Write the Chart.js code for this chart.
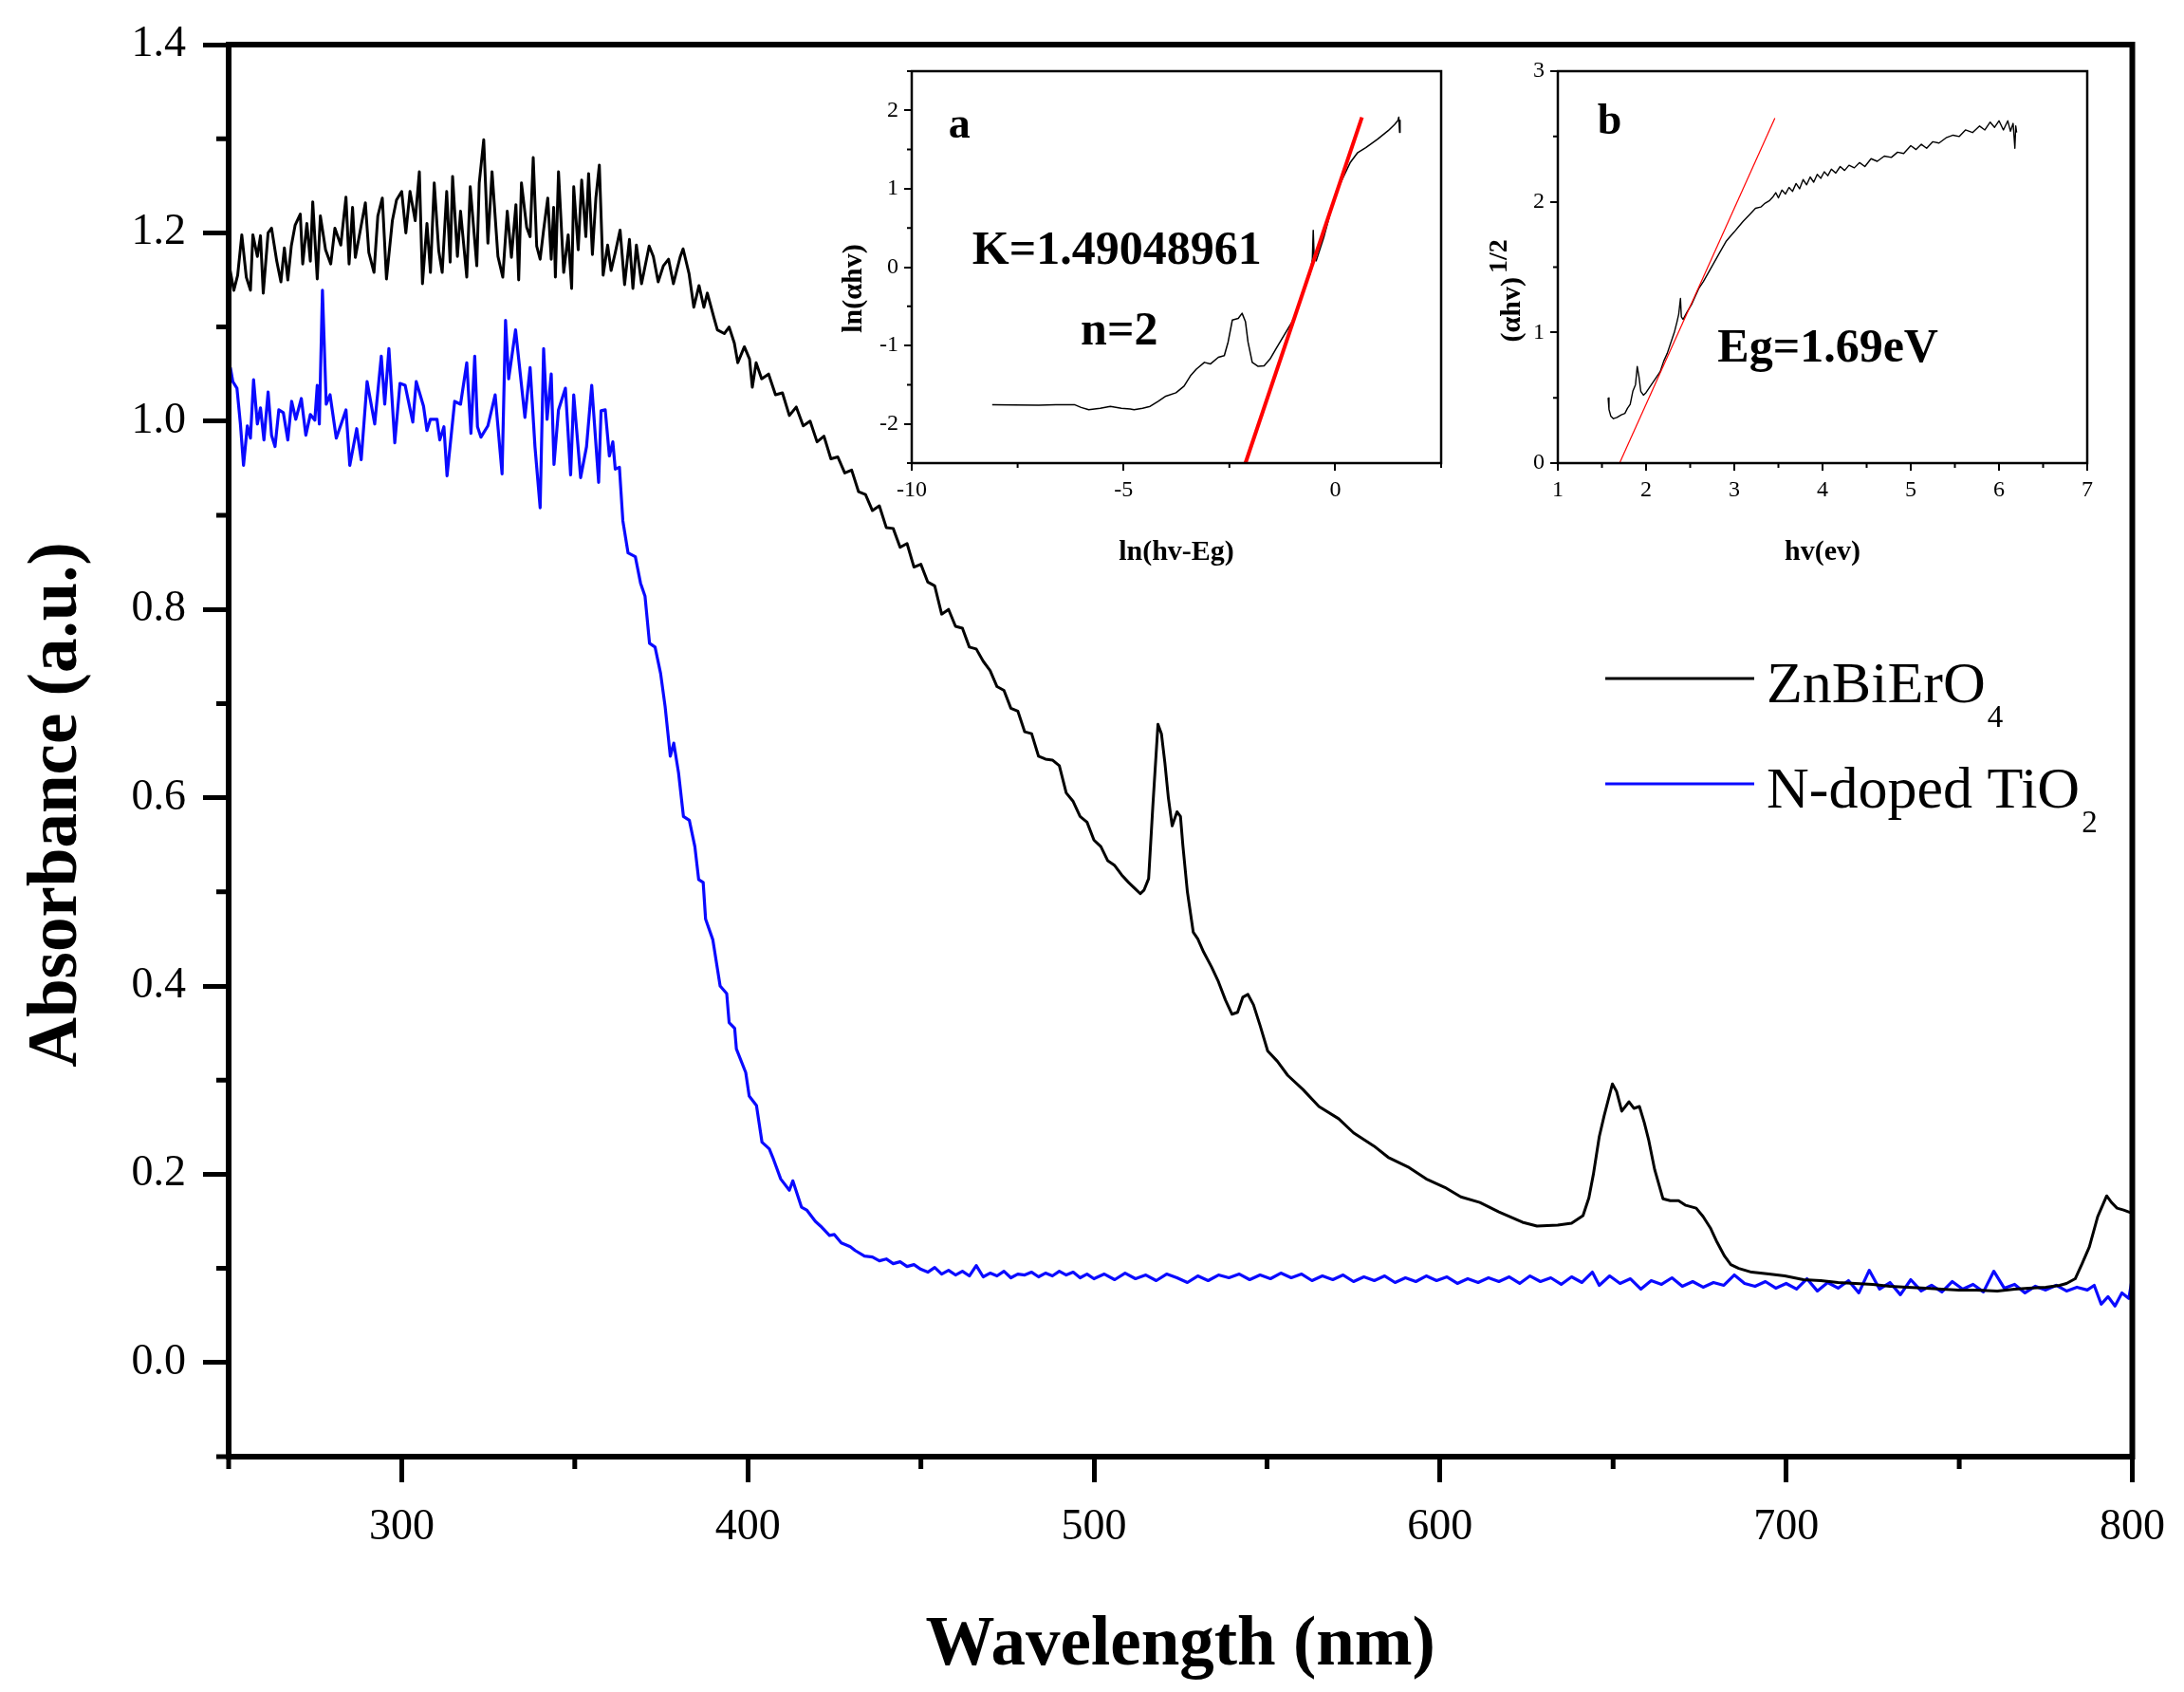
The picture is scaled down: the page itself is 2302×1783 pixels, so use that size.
<!DOCTYPE html>
<html>
<head>
<meta charset="utf-8">
<script src="https://cdn.jsdelivr.net/npm/chart.js@4.4.0/dist/chart.umd.min.js"></script>
<style>
  html, body { margin: 0; padding: 0; background: #fff; }
  #wrap { position: relative; width: 2302px; height: 1783px; }
  canvas { position: absolute; }
</style>
</head>
<body>
<div id="wrap">
  <canvas id="main" width="2302" height="1783" style="left:0;top:0;width:2302px;height:1783px"></canvas>
  <canvas id="insetA" width="670" height="575" style="left:870px;top:35px;width:670px;height:575px"></canvas>
  <canvas id="insetB" width="690" height="575" style="left:1550px;top:35px;width:690px;height:575px"></canvas>
</div>
<script>
// main spectrum, ZnBiErO4 (black)
const zbeWave = [250.2,251.5,252.6,253.8,255.1,256.3,257.0,258.3,259.2,260.0,261.4,262.4,263.9,265.1,266.1,267.1,268.1,269.2,270.7,271.4,
  272.6,273.6,274.3,275.6,276.5,278.0,279.5,280.7,282.4,283.9,284.8,285.8,286.6,288.3,289.5,290.5,292.0,293.1,294.4,295.6,
  297.3,298.5,300.0,301.2,302.4,303.9,305.1,306.0,307.3,308.3,309.4,310.7,311.7,313.0,314.0,314.7,316.1,317.0,318.8,319.8,
  321.7,322.4,323.7,324.9,326.1,327.8,329.2,330.5,331.7,333.0,333.8,334.6,336.1,337.1,338.0,339.0,340.0,341.0,342.2,343.2,
  343.9,344.4,345.3,346.8,348.1,349.1,349.7,351.0,352.0,353.2,354.0,355.1,356.1,357.1,358.2,359.5,360.5,361.7,363.1,364.4,
  365.8,366.8,367.8,369.3,371.5,372.7,374.1,375.6,377.1,378.5,380.5,381.3,383.0,384.4,385.9,387.3,388.3,390.2,391.2,393.2,
  394.6,396.1,397.1,399.0,400.5,401.3,402.4,404,406,408,410,412,414,416,418,420,422,424,426,428,430,432,434,436,438,440,
  442,444,446,448,450,452,454,456,458,460,462,464,466,468,470,472,474,476,478,480,482,484,486,488,490,492,494,496,498,500,
  502,504,506,508,510,512,513.4,514.5,515.8,517.0,518.5,519.5,520.5,521.5,522.6,524.0,525.0,525.7,527.0,528.7,530.0,531.7,
  534.0,535.8,538.0,539.9,541.5,543.0,544.5,546.1,548.0,550.2,553,556,560.4,565,570.7,575,580.9,585,591.1,596,601.4,606,
  611.5,617,623.8,628,634,638,641.3,643,644.3,646,647.4,649.8,651,652.5,654.6,656,657.6,659,660.3,662,664.4,666.5,668.9,671,
  674,676,678.1,680,682.2,684,686.3,690,695,699.6,705,710,715,720,725,730,735,740.4,745,750,755,761,766,770,775,779,781,
  783.5,785.5,787.6,790,792.6,794,795.6,797.5,799.7];
const zbeAbs = [1.165,1.139,1.155,1.198,1.153,1.139,1.198,1.175,1.197,1.136,1.200,1.205,1.170,1.148,1.184,1.150,1.186,1.208,1.220,1.167,
  1.210,1.170,1.233,1.151,1.218,1.182,1.167,1.205,1.187,1.238,1.167,1.227,1.174,1.208,1.232,1.179,1.158,1.218,1.237,1.151,
  1.213,1.235,1.244,1.200,1.244,1.213,1.265,1.146,1.210,1.158,1.253,1.181,1.158,1.244,1.169,1.260,1.175,1.223,1.153,1.249,
  1.165,1.253,1.299,1.189,1.265,1.175,1.153,1.223,1.174,1.230,1.150,1.253,1.206,1.196,1.280,1.186,1.172,1.203,1.237,1.172,
  1.227,1.153,1.265,1.158,1.198,1.141,1.249,1.182,1.256,1.196,1.263,1.177,1.237,1.272,1.155,1.187,1.160,1.179,1.203,1.145,
  1.193,1.141,1.187,1.146,1.186,1.175,1.148,1.165,1.172,1.146,1.175,1.183,1.157,1.121,1.144,1.121,1.136,1.110,1.097,1.093,
  1.100,1.083,1.062,1.079,1.066,1.036,1.062,1.045,1.050,1.028,1.030,1.006,1.015,0.995,1.000,0.978,0.984,0.960,0.962,0.945,0.948,0.925,0.922,0.905,0.910,0.887,
  0.886,0.866,0.870,0.845,0.848,0.829,0.825,0.795,0.800,0.782,0.780,0.760,0.758,0.745,0.735,0.718,0.714,0.695,0.692,0.670,0.668,0.644,0.641,0.640,0.634,0.605,0.596,0.580,0.574,0.555,
  0.548,0.533,0.528,0.518,0.510,0.503,0.498,0.502,0.514,0.590,0.678,0.668,0.637,0.600,0.570,0.585,0.580,0.549,0.500,0.457,0.450,0.436,
  0.420,0.406,0.385,0.370,0.372,0.388,0.391,0.380,0.358,0.331,0.320,0.305,0.290,0.272,0.259,0.244,0.230,0.218,0.207,0.195,0.186,0.176,
  0.170,0.160,0.149,0.145,0.146,0.148,0.156,0.175,0.200,0.240,0.262,0.296,0.288,0.267,0.277,0.270,0.272,0.255,0.236,0.205,0.174,0.172,0.172,0.167,
  0.164,0.155,0.143,0.128,0.113,0.104,0.100,0.096,0.094,0.092,0.088,0.087,0.085,0.084,0.083,0.081,0.080,0.079,0.078,0.077,0.077,0.076,0.078,0.079,0.080,0.082,0.084,
  0.089,0.105,0.123,0.155,0.177,0.170,0.164,0.162,0.159];

// main spectrum, N-doped TiO2 (blue)
const tioWave = [250.5,251.2,252.4,253.4,254.3,255.4,256.3,257.2,258.3,259.2,260.2,261.4,262.4,263.4,264.5,265.8,267.1,268.2,269.4,271.0,
  272.3,273.6,274.9,275.6,276.2,277.1,278.2,279.3,281.1,283.9,285.0,287.0,288.3,290.0,292.2,294.1,295.1,296.3,298.0,299.5,
  301.0,303.2,304.2,306.3,307.3,308.3,310.2,311.0,312.2,313.1,315.3,317.0,318.8,320.0,321.1,321.9,322.9,324.9,327.0,329.0,
  330.0,330.9,332.9,335.6,337.1,338.5,340.0,341.0,342.0,343.2,344.0,345.3,347.3,348.8,349.7,351.7,353.4,354.9,356.9,357.6,
  358.8,360.0,361.0,361.7,362.9,363.9,365.4,367.5,369.0,370.3,371.6,373.2,374.8,376.1,377.6,378.6,380.0,381.4,383.1,384.7,
  385.8,387.1,387.8,389.9,392.0,393.9,394.6,396.2,396.7,399.4,400.4,402.5,404.1,406.2,407.2,409.5,412,413,415.5,417,
  419.5,421,423.6,425,427,429.6,431,433.7,436,438,440,442,444,446,448,450,452,454,456,458,460,462,464,466,468,470,
  472,474,476,478,480,482,484,486,488,490,492,494,496,498,500,503,506,509,512,515,518,521,524,527,530,533,536,539,542,545,
  548,551,554,557,560,563,566,569,572,575,578,581,584,587,590,593,596,599,602,605,608,611,614,617,620,623,626,629,632,635,
  638,641,644,646,649,652,655,658,661,664,667,670,673,676,679,682,685,688,691,694,697,700,703,706,709,712,715,718,721,724,
  727,730,733,736,739,742,745,748,751,754,757,760,763,766,769,772,775,778,781,784,787,789,791,793,795,797,799,800];
const tioAbs = [1.057,1.042,1.035,0.997,0.953,0.995,0.982,1.044,0.997,1.014,0.980,1.031,0.985,0.973,1.012,1.009,0.980,1.021,1.002,1.024,
  0.985,1.007,1.001,1.038,0.997,1.139,1.018,1.028,0.982,1.012,0.953,0.992,0.959,1.042,0.997,1.069,1.018,1.077,0.977,1.040,
  1.038,0.999,1.042,1.016,0.990,1.002,1.002,0.980,0.994,0.942,1.021,1.018,1.062,0.987,1.069,0.994,0.983,0.995,1.028,0.944,
  1.107,1.045,1.097,1.004,1.057,0.973,0.908,1.077,1.002,1.050,0.954,1.012,1.035,0.943,1.028,0.940,0.973,1.038,0.935,1.011,
  1.012,0.963,0.978,0.949,0.951,0.894,0.860,0.856,0.828,0.814,0.764,0.760,0.732,0.697,0.644,0.658,0.626,0.580,0.576,0.548,
  0.513,0.510,0.471,0.449,0.400,0.392,0.361,0.355,0.333,0.308,0.283,0.273,0.234,0.227,0.218,0.195,0.183,0.193,0.165,0.162,
  0.150,0.145,0.135,0.136,0.127,0.123,0.119,0.113,0.112,0.108,0.110,0.105,0.107,0.102,0.104,0.099,0.096,0.101,0.094,0.098,0.093,0.097,0.092,0.103,0.091,0.095,
  0.092,0.097,0.090,0.094,0.093,0.096,0.091,0.095,0.092,0.097,0.093,0.096,0.090,0.094,0.089,0.094,0.088,0.095,0.089,0.093,0.087,0.094,0.090,0.085,0.092,0.087,0.093,0.090,0.094,0.088,
  0.093,0.089,0.095,0.090,0.094,0.087,0.092,0.088,0.093,0.086,0.091,0.087,0.092,0.085,0.090,0.086,0.092,0.087,0.091,0.084,0.089,0.085,0.090,0.086,0.091,0.084,0.092,0.086,0.090,0.083,
  0.091,0.085,0.096,0.082,0.092,0.084,0.089,0.078,0.087,0.083,0.090,0.081,0.086,0.080,0.085,0.082,0.093,0.084,0.081,0.086,0.079,0.084,0.078,0.089,0.076,0.085,0.079,0.087,0.074,0.098,
  0.078,0.085,0.072,0.088,0.076,0.082,0.075,0.086,0.078,0.083,0.075,0.097,0.079,0.083,0.074,0.081,0.077,0.082,0.076,0.080,0.077,0.082,0.062,0.070,0.060,0.074,0.068,0.090];

const mainXTicks = [300, 400, 500, 600, 700, 800];
const mainXMinor = [250, 350, 450, 550, 650, 750];
const mainYTicks = [0, 0.2, 0.4, 0.6, 0.8, 1.0, 1.2, 1.4];
const mainYMinor = [-0.1, 0.1, 0.3, 0.5, 0.7, 0.9, 1.1, 1.3];

// inset a: ln(ahv) vs ln(hv-Eg)
const lnX = [-8.1,-7.6,-7.0,-6.6,-6.16,-6.0,-5.82,-5.55,-5.31,-5.05,-4.84,-4.75,-4.55,-4.37,-4.18,-4.0,-3.76,-3.57,-3.42,-3.28,
  -3.09,-2.95,-2.76,-2.62,-2.53,-2.43,-2.29,-2.20,-2.12,-2.06,-1.96,-1.82,-1.68,-1.54,-1.40,-1.21,-1.02,-0.88,-0.74,-0.60,
  -0.54,-0.52,-0.50,-0.45,-0.27,-0.12,0.02,0.16,0.35,0.53,0.72,1.00,1.25,1.40,1.48,1.50,1.52,1.53];
const lnY = [-1.754,-1.757,-1.760,-1.754,-1.754,-1.790,-1.819,-1.800,-1.776,-1.800,-1.810,-1.819,-1.800,-1.776,-1.711,-1.646,-1.603,-1.517,-1.387,-1.301,
  -1.215,-1.236,-1.150,-1.128,-0.956,-0.675,-0.654,-0.589,-0.697,-0.956,-1.215,-1.266,-1.258,-1.172,-1.042,-0.869,-0.697,-0.524,-0.265,-0.093,
  0.10,0.468,0.15,0.080,0.382,0.684,0.943,1.115,1.331,1.461,1.525,1.633,1.741,1.82,1.871,1.914,1.72,1.88];
const lnFitX = [-2.12, 0.63];
const lnFitY = [-2.5, 1.91];
const aXTicks = [-10, -5, 0];
const aXMinor = [-7.5, -2.5, 2.5];
const aYTicks = [-2, -1, 0, 1, 2];
const aYMinor = [-2.5, -1.5, -0.5, 0.5, 1.5, 2.5];

// inset b: (ahv)^1/2 vs hv
const hvX = [1.57,1.58,1.60,1.63,1.67,1.72,1.76,1.79,1.82,1.85,1.88,1.90,1.92,1.94,1.97,2.00,2.04,2.08,2.12,2.16,
  2.20,2.24,2.28,2.32,2.35,2.37,2.39,2.40,2.42,2.46,2.52,2.56,2.60,2.65,2.70,2.75,2.80,2.85,2.91,2.96,
  3.00,3.05,3.10,3.17,3.24,3.30,3.35,3.40,3.44,3.47,3.50,3.54,3.58,3.62,3.66,3.70,3.74,3.78,3.82,3.86,
  3.90,3.94,3.98,4.02,4.06,4.10,4.15,4.20,4.25,4.30,4.36,4.42,4.48,4.55,4.62,4.70,4.78,4.85,4.92,5.00,
  5.06,5.12,5.18,5.25,5.32,5.40,5.48,5.55,5.62,5.70,5.78,5.84,5.90,5.95,6.00,6.05,6.10,6.13,6.16,6.18,6.19,6.20];
const hvY = [0.50,0.41,0.36,0.34,0.35,0.37,0.38,0.42,0.45,0.55,0.60,0.74,0.66,0.55,0.52,0.54,0.58,0.62,0.66,0.70,
  0.78,0.84,0.92,1.00,1.08,1.14,1.26,1.12,1.10,1.15,1.22,1.28,1.34,1.39,1.45,1.51,1.57,1.63,1.70,1.74,
  1.77,1.81,1.85,1.90,1.95,1.96,1.99,2.01,2.04,2.07,2.03,2.09,2.06,2.11,2.08,2.14,2.10,2.17,2.13,2.19,
  2.15,2.21,2.18,2.23,2.20,2.25,2.22,2.27,2.24,2.28,2.26,2.30,2.27,2.33,2.31,2.35,2.34,2.38,2.37,2.43,
  2.40,2.44,2.41,2.46,2.45,2.49,2.51,2.50,2.55,2.53,2.58,2.55,2.61,2.57,2.62,2.55,2.62,2.54,2.60,2.41,2.58,2.53];
const hvFitX = [1.70, 3.46];
const hvFitY = [0, 2.64];
const bXTicks = [1, 2, 3, 4, 5, 6, 7];
const bXMinor = [1.5, 2.5, 3.5, 4.5, 5.5, 6.5];
const bYTicks = [0, 1, 2, 3];
const bYMinor = [0.5, 1.5, 2.5];

const SERIF = '"Liberation Serif", "Times New Roman", serif';
Chart.defaults.font.family = SERIF;
Chart.defaults.color = '#000';

function pts(xs, ys) {
  return xs.map((x, i) => ({ x: x, y: ys[i] }));
}

function lineSet(label, xs, ys, color, width) {
  return {
    label: label,
    data: pts(xs, ys),
    showLine: true,
    borderColor: color,
    backgroundColor: color,
    borderWidth: width,
    pointRadius: 0,
    tension: 0,
    borderJoinStyle: 'round'
  };
}

function axis(min, max, ticks, o) {
  return {
    type: 'linear',
    min: min,
    max: max,
    afterBuildTicks: s => { s.ticks = ticks.map(v => ({ value: v })); },
    afterFit: s => { if (o.height) s.height = o.height; if (o.width) s.width = o.width; },
    ticks: {
      font: { size: o.font }, color: '#000', padding: o.pad,
      maxRotation: 0, autoSkip: false, callback: o.fmt
    },
    grid: { drawOnChartArea: false, drawTicks: true, tickLength: o.tick, lineWidth: o.tickW, color: '#000' },
    border: { display: false }
  };
}

// frame, minor ticks and extra text for a chart
function decor(id, frameW, minorLen, minorW, xMinor, yMinor, extra) {
  return {
    id: id,
    afterDraw(chart) {
      const ctx = chart.ctx;
      const a = chart.chartArea;
      const xs = chart.scales.x, ys = chart.scales.y;
      ctx.save();
      ctx.strokeStyle = '#000';
      ctx.lineWidth = minorW;
      ctx.beginPath();
      xMinor.forEach(v => {
        const p = xs.getPixelForValue(v);
        ctx.moveTo(p, a.bottom);
        ctx.lineTo(p, a.bottom + minorLen);
      });
      yMinor.forEach(v => {
        const p = ys.getPixelForValue(v);
        ctx.moveTo(a.left, p);
        ctx.lineTo(a.left - minorLen, p);
      });
      ctx.stroke();
      ctx.lineWidth = frameW;
      ctx.strokeRect(a.left, a.top, a.right - a.left, a.bottom - a.top);
      ctx.fillStyle = '#000';
      extra(chart, ctx, xs, ys, a);
      ctx.restore();
    }
  };
}

// ---------- main chart ----------
new Chart(document.getElementById('main'), {
  type: 'scatter',
  data: {
    datasets: [
      Object.assign(lineSet('ZnBiErO4', zbeWave, zbeAbs, '#000000', 3), { legendName: 'ZnBiErO', legendSub: '4' }),
      Object.assign(lineSet('N-doped TiO2', tioWave, tioAbs, '#0a0aff', 3.2), { legendName: 'N-doped TiO', legendSub: '2' })
    ]
  },
  options: {
    responsive: false,
    animation: false,
    devicePixelRatio: 1,
    layout: { padding: { top: 47, right: 48, left: 0, bottom: 0 } },
    plugins: { legend: { display: false }, tooltip: { enabled: false } },
    scales: {
      x: axis(250, 800, mainXTicks, { font: 46, pad: 20, tick: 27, tickW: 5, height: 248, fmt: v => String(v) }),
      y: axis(-0.1, 1.4, mainYTicks, { font: 46, pad: 18, tick: 27, tickW: 5, width: 241, fmt: v => v.toFixed(1) })
    }
  },
  plugins: [decor('mainDecor', 6, 13, 5, mainXMinor, mainYMinor, (chart, ctx, xs, ys, a) => {
    // axis titles
    ctx.font = 'bold 73px ' + SERIF;
    ctx.textAlign = 'center';
    ctx.textBaseline = 'alphabetic';
    ctx.fillText('Wavelength (nm)', (a.left + a.right) / 2, 1754);
    ctx.save();
    ctx.translate(80, 848);
    ctx.rotate(-Math.PI / 2);
    ctx.fillText('Absorbance (a.u.)', 0, 0);
    ctx.restore();
    // legend
    const rows = [715, 826];
    chart.data.datasets.forEach((ds, i) => {
      const y = rows[i];
      ctx.strokeStyle = ds.borderColor;
      ctx.lineWidth = 3;
      ctx.beginPath();
      ctx.moveTo(1692, y);
      ctx.lineTo(1849, y);
      ctx.stroke();
      ctx.textAlign = 'left';
      ctx.font = '62px ' + SERIF;
      ctx.fillText(ds.legendName, 1862, y + 25);
      const w = ctx.measureText(ds.legendName).width;
      ctx.font = '33px ' + SERIF;
      ctx.fillText(ds.legendSub, 1862 + w + 2, y + 51);
    });
  })]
});

// ---------- inset a ----------
new Chart(document.getElementById('insetA'), {
  type: 'scatter',
  data: {
    datasets: [
      lineSet('fit', lnFitX, lnFitY, '#ff0000', 4),
      lineSet('data', lnX, lnY, '#000000', 1.5)
    ]
  },
  options: {
    responsive: false,
    animation: false,
    devicePixelRatio: 1,
    layout: { padding: { top: 40, right: 21, left: 0, bottom: 0 } },
    plugins: { legend: { display: false }, tooltip: { enabled: false } },
    scales: {
      x: axis(-10, 2.5, aXTicks, { font: 24, pad: 6, tick: 8, tickW: 2, height: 122, fmt: v => String(v) }),
      y: axis(-2.5, 2.5, aYTicks, { font: 24, pad: 6, tick: 8, tickW: 2, width: 91, fmt: v => String(v) })
    }
  },
  plugins: [decor('aDecor', 2.5, 5, 2, aXMinor, aYMinor, (chart, ctx, xs, ys, a) => {
    ctx.textAlign = 'left';
    ctx.textBaseline = 'alphabetic';
    ctx.font = 'bold 46px ' + SERIF;
    ctx.fillText('a', xs.getPixelForValue(-9.13), ys.getPixelForValue(1.65));
    ctx.font = 'bold 50px ' + SERIF;
    ctx.fillText('K=1.49048961', xs.getPixelForValue(-8.57), ys.getPixelForValue(0.04));
    ctx.fillText('n=2', xs.getPixelForValue(-6.01), ys.getPixelForValue(-0.99));
    ctx.font = 'bold 30px ' + SERIF;
    ctx.textAlign = 'center';
    ctx.fillText('ln(hv-Eg)', (a.left + a.right) / 2, 555);
    ctx.save();
    ctx.translate(38, 269);
    ctx.rotate(-Math.PI / 2);
    ctx.fillText('ln(\u03b1hv)', 0, 0);
    ctx.restore();
  })]
});

// ---------- inset b ----------
new Chart(document.getElementById('insetB'), {
  type: 'scatter',
  data: {
    datasets: [
      lineSet('fit', hvFitX, hvFitY, '#ff0000', 1.2),
      lineSet('data', hvX, hvY, '#000000', 1.4)
    ]
  },
  options: {
    responsive: false,
    animation: false,
    devicePixelRatio: 1,
    layout: { padding: { top: 40, right: 40, left: 0, bottom: 0 } },
    plugins: { legend: { display: false }, tooltip: { enabled: false } },
    scales: {
      x: axis(1, 7, bXTicks, { font: 24, pad: 6, tick: 8, tickW: 2, height: 122, fmt: v => String(v) }),
      y: axis(0, 3, bYTicks, { font: 24, pad: 6, tick: 8, tickW: 2, width: 92, fmt: v => String(v) })
    }
  },
  plugins: [decor('bDecor', 2.5, 5, 2, bXMinor, bYMinor, (chart, ctx, xs, ys, a) => {
    ctx.textAlign = 'left';
    ctx.textBaseline = 'alphabetic';
    ctx.font = 'bold 46px ' + SERIF;
    ctx.fillText('b', xs.getPixelForValue(1.45), ys.getPixelForValue(2.52));
    ctx.font = 'bold 50px ' + SERIF;
    ctx.fillText('Eg=1.69eV', xs.getPixelForValue(2.81), ys.getPixelForValue(0.78));
    ctx.font = 'bold 30px ' + SERIF;
    ctx.textAlign = 'center';
    ctx.fillText('hv(ev)', (a.left + a.right) / 2, 555);
    ctx.save();
    ctx.translate(52, 290);
    ctx.rotate(-Math.PI / 2);
    ctx.textAlign = 'right';
    ctx.fillText('(\u03b1hv)', 33, 0);
    ctx.textAlign = 'left';
    ctx.font = 'bold 28px ' + SERIF;
    ctx.fillText('1/2', 37, -14);
    ctx.restore();
  })]
});
</script>
</body>
</html>
